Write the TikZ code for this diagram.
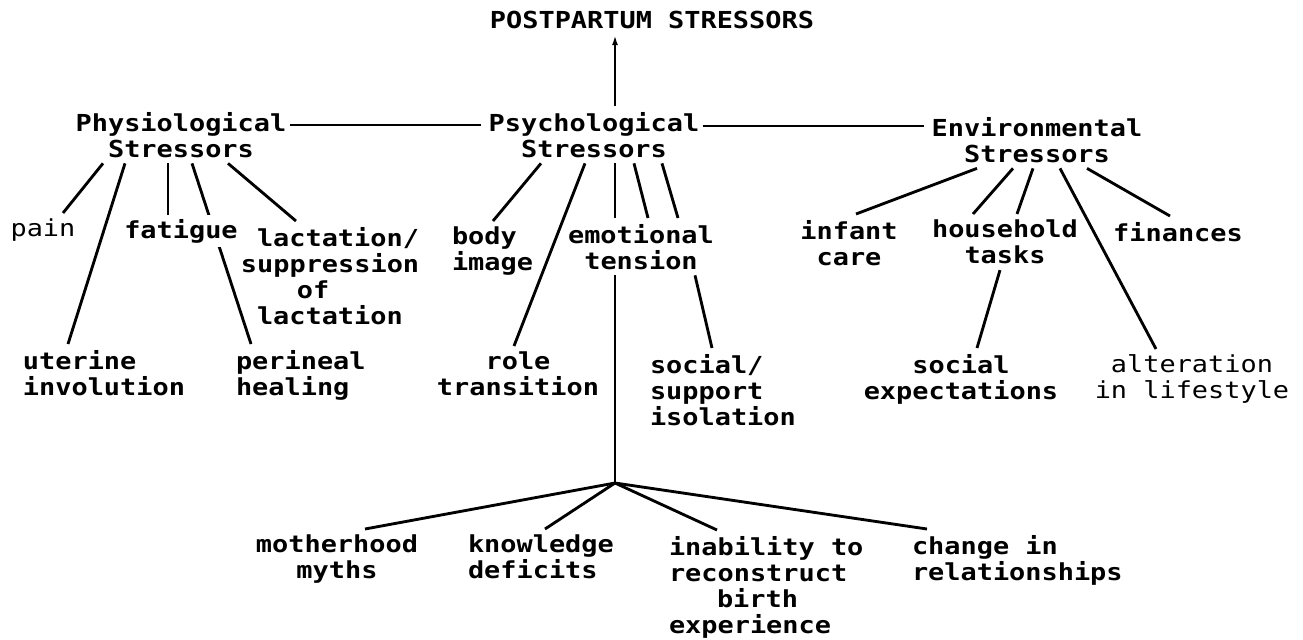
\documentclass[tikz,border=0pt]{standalone}
\usepackage{fontspec}
\setmonofont{DejaVu Sans Mono}[FakeStretch=1.15]
\usetikzlibrary{arrows.meta, backgrounds}

\tikzset{
  stress/.style={font=\ttfamily\bfseries\fontsize{11.7}{13}\selectfont,
    inner sep=0pt, outer xsep=0pt, outer ysep=3pt, align=center,
    execute at begin node=\vphantom{l}},
  light/.style={stress, font=\ttfamily\mdseries\fontsize{11.7}{13}\selectfont},
  link/.style={line width=0.5mm},
}

\begin{document}
\begin{tikzpicture}[x=0.5pt, y=-0.5pt]
\useasboundingbox (0,0) rectangle (1303,639);
\node (post) at (652,5) [stress, anchor=north] {POSTPARTUM STRESSORS};
\node (phys) at (181,106) [stress, anchor=north] {Physiological\\Stressors};
\node (psy) at (594,106) [stress, anchor=north] {Psychological\\Stressors};
\node (env) at (1037,111) [stress, anchor=north] {Environmental\\Stressors};
% physiological
\node (pain) at (43,213) [light, anchor=north] {pain};
\node (fat) at (181,215) [stress, anchor=north, fill=white, inner ysep=2pt, outer ysep=0pt] {fatigue};
\node (lact) at (241,221) [stress, anchor=north west, align=left] {\hspace*{8pt}lactation/\\suppression\\\hspace*{28pt}of\\\hspace*{8pt}lactation};
\node (uter) at (23,344) [stress, anchor=north west, align=left] {uterine\\involution};
\node (peri) at (236,344) [stress, anchor=north west, align=left] {perineal\\healing};
% psychological
\node (body) at (452,221) [stress, anchor=north west, align=left] {body\\image};
\node (emot) at (641,218) [stress, anchor=north] {emotional\\tension};
\node (role) at (518,346) [stress, anchor=north] {role\\transition};
\node (soc) at (650,348) [stress, anchor=north west, align=left] {social/\\support\\isolation};
\coordinate (hub) at (615,483);
\node (myth) at (337,529) [stress, anchor=north] {motherhood\\myths};
\node (know) at (468,529) [stress, anchor=north west, align=left] {knowledge\\deficits};
\node (inab) at (669,530) [stress, anchor=north west, align=left] {inability to\\reconstruct\\\hspace*{24pt}birth\\experience};
\node (chg) at (912,529) [stress, anchor=north west, align=left] {change in\\relationships};
% environmental
\node (inf) at (849,214) [stress, anchor=north] {infant\\care};
\node (house) at (1005,214) [stress, anchor=north] {household\\tasks};
\node (fin) at (1178,216) [stress, anchor=north] {finances};
\node (sexp) at (961,348) [stress, anchor=north] {social\\expectations};
\node (alter) at (1192,349) [light, anchor=north] {alteration\\in lifestyle};

\begin{scope}[on background layer={link}]
\draw[-{Latex[length=5pt,width=3pt]}] (615,0 |- psy.north) -- (615,0 |- post.south);
\draw[shorten <=2pt, shorten >=4pt] (phys.east |- 0,125) -- (psy.west |- 0,125);
\draw[shorten <=2pt, shorten >=4pt] (psy.east |- 0,126) -- (env.west |- 0,126);
\draw (103,0 |- phys.south) -- (63,0 |- pain.north);
\draw (125,0 |- phys.south) -- (68,0 |- uter.north);
\draw (168,0 |- phys.south) -- (168,0 |- fat.north);
\draw (192,0 |- phys.south) -- (251,0 |- peri.north);
\draw (228,0 |- phys.south) -- (296,0 |- lact.north);
\draw (541,0 |- psy.south) -- (493,0 |- body.north);
\draw (585,0 |- psy.south) -- (514,0 |- role.north);
\draw (615,0 |- psy.south) -- (615,0 |- emot.north);
\draw (634,0 |- psy.south) -- (648,0 |- emot.north);
\draw (662,0 |- psy.south) -- (678,0 |- emot.north);
\draw (615,0 |- emot.south) -- (hub);
\draw (695,0 |- emot.south) -- (712,0 |- soc.north);
\draw (hub) -- (365,0 |- myth.north);
\draw (hub) -- (545,0 |- know.north);
\draw (hub) -- (717,0 |- inab.north);
\draw (hub) -- (927,0 |- chg.north);
\draw (977,0 |- env.south) -- (856,0 |- inf.north);
\draw (1013,0 |- env.south) -- (973,0 |- house.north);
\draw (1033,0 |- env.south) -- (1017,0 |- house.north);
\draw (1060,0 |- env.south) -- (1156,0 |- alter.north);
\draw (1087,0 |- env.south) -- (1170,0 |- fin.north);
\draw (1000,0 |- house.south) -- (977,0 |- sexp.north);
\end{scope}
\end{tikzpicture}
\end{document}
